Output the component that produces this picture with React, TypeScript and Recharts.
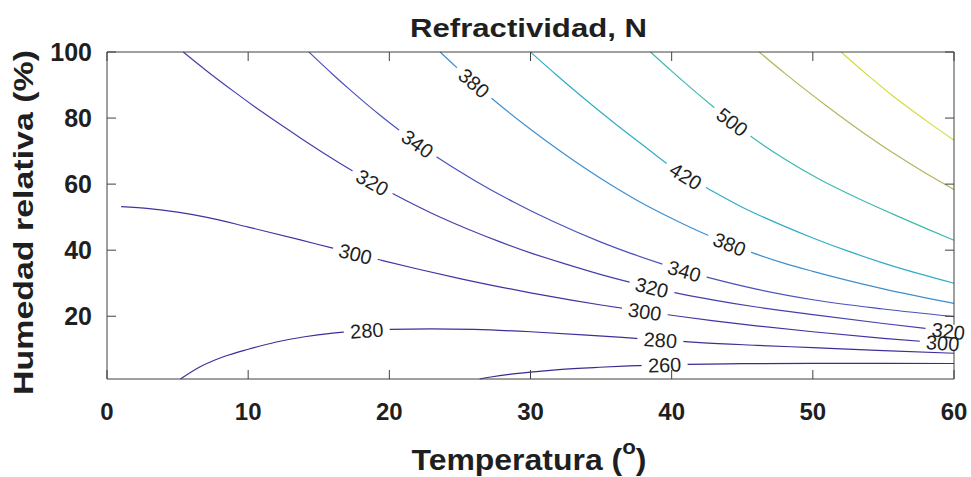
import { ComposedChart, Line, XAxis, YAxis } from "recharts";

// temperature (t, °C) vs relative humidity (h, %) for each contour level
// lab marks the points where the level label sits on the line
type Pt = { t: number; h: number; lab?: string };

const xTicks = [0, 10, 20, 30, 40, 50, 60];
const yTicks = [20, 40, 60, 80, 100];

const n260: Pt[] = [
  { t: 26.4, h: 1 }, { t: 27.2, h: 1.6 }, { t: 28.5, h: 2.4 }, { t: 30, h: 3.1 },
  { t: 32, h: 3.85 }, { t: 34.9, h: 4.55 }, { t: 37, h: 4.95 },
  { t: 39.5, h: 5.3, lab: "260" }, { t: 41.1, h: 5.45 }, { t: 45, h: 5.65 },
  { t: 50, h: 5.75 }, { t: 55, h: 5.75 }, { t: 60, h: 5.7 },
];

const n280: Pt[] = [
  { t: 5.2, h: 1 }, { t: 6.6, h: 4.7 }, { t: 8.3, h: 7.8 }, { t: 10, h: 10 },
  { t: 12, h: 12.2 }, { t: 14, h: 13.8 }, { t: 16, h: 14.9 },
  { t: 18.4, h: 15.7, lab: "280" }, { t: 20, h: 16 }, { t: 23, h: 16.2 },
  { t: 26, h: 16 }, { t: 30, h: 15.3 }, { t: 34, h: 14.3 }, { t: 36.5, h: 13.6 },
  { t: 39.2, h: 12.8, lab: "280" }, { t: 42, h: 12.0 }, { t: 46, h: 11.2 },
  { t: 50, h: 10.5 }, { t: 55, h: 9.6 }, { t: 60, h: 8.8 },
];

const n300: Pt[] = [
  { t: 1, h: 53.2 }, { t: 3, h: 52.6 }, { t: 5, h: 51.5 }, { t: 7, h: 50 },
  { t: 10, h: 47 }, { t: 13.7, h: 43.1 }, { t: 16, h: 40.6 },
  { t: 17.6, h: 38.9, lab: "300" }, { t: 19.3, h: 37.1 }, { t: 22, h: 34.3 },
  { t: 25, h: 31.4 }, { t: 27.8, h: 28.9 }, { t: 30, h: 27.1 }, { t: 33, h: 24.8 },
  { t: 35, h: 23.4 }, { t: 38.1, h: 21.4, lab: "300" }, { t: 40, h: 20.3 },
  { t: 43, h: 18.6 }, { t: 46, h: 17.1 }, { t: 50, h: 15.3 }, { t: 55, h: 13.3 },
  { t: 59.2, h: 11.9, lab: "300" }, { t: 60, h: 11.65 },
];

const n320: Pt[] = [
  { t: 5.4, h: 100 }, { t: 7, h: 94.5 }, { t: 9, h: 88 }, { t: 11, h: 81.8 },
  { t: 13.7, h: 74 }, { t: 15.5, h: 69 }, { t: 17.2, h: 64.5 },
  { t: 18.8, h: 60.5, lab: "320" }, { t: 20.3, h: 57 }, { t: 23, h: 51.2 },
  { t: 25.5, h: 46.5 }, { t: 27.8, h: 42.6 }, { t: 30, h: 39.2 }, { t: 32.5, h: 35.8 },
  { t: 35, h: 32.6 }, { t: 38.6, h: 28.7, lab: "320" }, { t: 40.3, h: 27.1 },
  { t: 43, h: 24.9 }, { t: 46, h: 22.8 }, { t: 50, h: 20.5 }, { t: 55, h: 17.8 },
  { t: 59.6, h: 15.5, lab: "320" }, { t: 60, h: 15.3 },
];

const n340: Pt[] = [
  { t: 14.3, h: 100 }, { t: 16, h: 93.2 }, { t: 17.2, h: 88.6 }, { t: 19.3, h: 81 },
  { t: 20.8, h: 76 }, { t: 22, h: 72.2, lab: "340" }, { t: 23.5, h: 67.8 },
  { t: 26, h: 61.2 }, { t: 28.8, h: 54.6 }, { t: 31.5, h: 48.9 }, { t: 34.9, h: 42.6 },
  { t: 37, h: 39.2 }, { t: 39.4, h: 35.7 }, { t: 40.9, h: 33.7, lab: "340" },
  { t: 42.7, h: 31.6 }, { t: 46, h: 28.2 }, { t: 50, h: 25 }, { t: 55, h: 22.2 },
  { t: 60, h: 19.9 },
];

const n380: Pt[] = [
  { t: 23.6, h: 100 }, { t: 24.8, h: 95.2 }, { t: 26, h: 90.6, lab: "380" },
  { t: 27.5, h: 85.1 }, { t: 30, h: 76.6 }, { t: 32, h: 70.3 }, { t: 34.9, h: 61.9 },
  { t: 37.5, h: 55.2 }, { t: 40.6, h: 48.4 }, { t: 42, h: 45.6 },
  { t: 44.1, h: 41.8, lab: "380" }, { t: 45.8, h: 39.1 }, { t: 48, h: 36 },
  { t: 50, h: 33.6 }, { t: 55, h: 28.3 }, { t: 60, h: 23.9 },
];

const n420: Pt[] = [
  { t: 30, h: 100 }, { t: 31.8, h: 93.2 }, { t: 33.5, h: 87 }, { t: 36, h: 78.3 },
  { t: 38, h: 71.7 }, { t: 39.6, h: 66.4 }, { t: 41, h: 62.4, lab: "420" },
  { t: 42.5, h: 58.8 }, { t: 45, h: 53 }, { t: 48, h: 47.2 }, { t: 50, h: 43.7 },
  { t: 52.5, h: 39.7 }, { t: 55, h: 36.1 }, { t: 57.5, h: 32.9 }, { t: 60, h: 30 },
];

const n500: Pt[] = [
  { t: 38.5, h: 100 }, { t: 40, h: 94.2 }, { t: 41.5, h: 88.6 }, { t: 42.9, h: 83.6 },
  { t: 44.3, h: 78.8, lab: "500" }, { t: 45.8, h: 73.9 }, { t: 48, h: 67.6 },
  { t: 50.5, h: 61.4 }, { t: 53.3, h: 55.5 }, { t: 56, h: 50.3 }, { t: 58, h: 46.6 },
  { t: 60, h: 43 },
];

const n540: Pt[] = [
  { t: 46.2, h: 100 }, { t: 48, h: 93.6 }, { t: 51, h: 83.6 }, { t: 53.5, h: 75.8 },
  { t: 55.7, h: 69.4 }, { t: 58, h: 63.3 }, { t: 60, h: 58.4 },
];

const n580: Pt[] = [
  { t: 52, h: 100 }, { t: 53.8, h: 93.3 }, { t: 55.7, h: 86.6 }, { t: 58, h: 79.3 },
  { t: 60, h: 73.3 },
];

const contours = [
  { id: "n260", data: n260, color: "#3c2a92" },
  { id: "n280", data: n280, color: "#3e2e9a" },
  { id: "n300", data: n300, color: "#4034a2" },
  { id: "n320", data: n320, color: "#443fac" },
  { id: "n340", data: n340, color: "#4a52ba" },
  { id: "n380", data: n380, color: "#3f8fcf" },
  { id: "n420", data: n420, color: "#2eaec6" },
  { id: "n500", data: n500, color: "#3cb9b0" },
  { id: "n540", data: n540, color: "#b6b45c" },
  { id: "n580", data: n580, color: "#d6db3c" },
];

const FONT = "'Liberation Sans', Arial, Helvetica, sans-serif";
const AXIS = "#404040";
const TXT = "#1f1f1f";

const BottomTick = (props: any) => {
  const { x, y, payload } = props;
  return (
    <g>
      <line x1={x} y1={y} x2={x} y2={y - 9} stroke={AXIS} />
      <text x={x} y={y + 41} textAnchor="middle" fontSize={24} fontWeight="bold" fontFamily={FONT} fill={TXT}>
        {payload.value}
      </text>
    </g>
  );
};

const LeftTick = (props: any) => {
  const { x, y, payload } = props;
  return (
    <g>
      <line x1={x} y1={y} x2={x + 9} y2={y} stroke={AXIS} />
      <text x={x - 15} y={y} dy="0.36em" textAnchor="end" fontSize={25} fontWeight="bold" fontFamily={FONT} fill={TXT}>
        {payload.value}
      </text>
    </g>
  );
};

const TopTick = (props: any) => (
  <line x1={props.x} y1={props.y} x2={props.x} y2={props.y + 9} stroke={AXIS} />
);

const RightTick = (props: any) => (
  <line x1={props.x} y1={props.y} x2={props.x - 9} y2={props.y} stroke={AXIS} />
);

// contour labels: white gap first, text in a later pass
function labelDot(part: "bg" | "text") {
  return (props: any) => {
    const { cx, cy, index, payload, points } = props;
    if (!payload || !payload.lab || cx == null) return <g key={`l-${index}`} />;
    let angle = 0;
    if (points && points.length > 1) {
      const a = points[Math.max(0, index - 1)];
      const b = points[Math.min(points.length - 1, index + 1)];
      angle = (Math.atan2(b.y - a.y, b.x - a.x) * 180) / Math.PI;
    }
    return (
      <g key={`l-${index}`} transform={`translate(${cx},${cy}) rotate(${angle})`}>
        {part === "bg" ? (
          <rect x={-23} y={-7} width={46} height={14} fill="#ffffff" />
        ) : (
          <text textAnchor="middle" dy="0.36em" fontSize={20} fontFamily={FONT} fill={TXT}>
            {payload.lab}
          </text>
        )}
      </g>
    );
  };
}

export default function App() {
  return (
    <div style={{ position: "relative", width: 971, height: 477, background: "#fff" }}>
      <style>{"body{margin:0;background:#fff}"}</style>
      <ComposedChart width={971} height={477} margin={{ top: 51, right: 16, bottom: 0, left: 0 }}>
        <XAxis
          xAxisId={0}
          type="number"
          dataKey="t"
          domain={[0, 60]}
          ticks={xTicks}
          interval={0}
          height={98}
          tickSize={0}
          tickMargin={0}
          tickLine={false}
          tick={<BottomTick />}
          axisLine={{ stroke: AXIS }}
        />
        <XAxis
          xAxisId="top"
          orientation="top"
          type="number"
          dataKey="t"
          domain={[0, 60]}
          ticks={xTicks}
          interval={0}
          height={1}
          tickSize={0}
          tickMargin={0}
          tickLine={false}
          tick={<TopTick />}
          axisLine={{ stroke: AXIS }}
        />
        <YAxis
          yAxisId={0}
          type="number"
          domain={[1, 100]}
          ticks={yTicks}
          interval={0}
          width={107}
          tickSize={0}
          tickMargin={0}
          tickLine={false}
          tick={<LeftTick />}
          axisLine={{ stroke: AXIS }}
        />
        <YAxis
          yAxisId="right"
          orientation="right"
          type="number"
          domain={[1, 100]}
          ticks={yTicks}
          interval={0}
          width={1}
          tickSize={0}
          tickMargin={0}
          tickLine={false}
          tick={<RightTick />}
          axisLine={{ stroke: AXIS }}
        />
        {contours.map((c) => (
          <Line
            key={c.id}
            data={c.data}
            dataKey="h"
            type="monotone"
            stroke={c.color}
            strokeWidth={1.2}
            dot={false}
            activeDot={false}
            isAnimationActive={false}
          />
        ))}
        {contours.map((c) => (
          <Line
            key={`${c.id}-bg`}
            xAxisId="top"
            yAxisId="right"
            data={c.data}
            dataKey="h"
            stroke="none"
            dot={labelDot("bg")}
            activeDot={false}
            isAnimationActive={false}
          />
        ))}
        {contours.map((c) => (
          <Line
            key={`${c.id}-txt`}
            data={c.data}
            dataKey="h"
            stroke="none"
            dot={labelDot("text")}
            activeDot={false}
            isAnimationActive={false}
          />
        ))}
      </ComposedChart>
      <svg width={971} height={477} style={{ position: "absolute", left: 0, top: 0, pointerEvents: "none" }}>
        <text x={528.5} y={37} textAnchor="middle" fontSize={26} fontWeight="bold" fontFamily={FONT} fill={TXT}
          textLength={237} lengthAdjust="spacingAndGlyphs">
          Refractividad, N
        </text>
        <text transform="translate(33,222.5) rotate(-90)" textAnchor="middle" fontSize={28} fontWeight="bold"
          fontFamily={FONT} fill={TXT} textLength={345} lengthAdjust="spacingAndGlyphs">
          Humedad relativa (%)
        </text>
        <text x={529} y={470} textAnchor="middle" fontSize={30} fontWeight="bold" fontFamily={FONT} fill={TXT}
          textLength={235} lengthAdjust="spacingAndGlyphs">
          Temperatura (<tspan fontSize={21} dy={-16}>o</tspan><tspan dy={16}>)</tspan>
        </text>
      </svg>
    </div>
  );
}
